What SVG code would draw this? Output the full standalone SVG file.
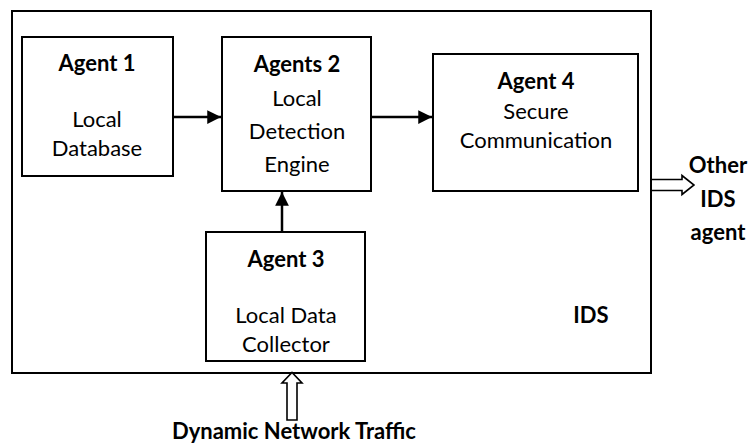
<svg xmlns="http://www.w3.org/2000/svg" width="748" height="443" viewBox="0 0 748 443">
<style>
.box{fill:#fff;stroke:#000;stroke-width:2}
.t{font-family:Lato,"Liberation Sans",sans-serif;font-size:22px;fill:#000;text-anchor:middle}
.b{font-weight:bold}
.ln{stroke:#000;stroke-width:2.5;fill:none}
.hol{fill:#fff;stroke:#000;stroke-width:1.6;stroke-linejoin:miter}
</style>
<defs>
<marker id="ah" viewBox="0 0 10 10" refX="10" refY="5" markerWidth="6" markerHeight="5.5" markerUnits="strokeWidth" orient="auto">
<path d="M0,0 L10,5 L0,10 Z" fill="#000"/>
</marker>
</defs>
<g id="ids">
<rect class="box" x="12" y="11" width="639" height="362"/>
<text class="t b" x="591" y="323">IDS</text>
</g>
<g id="agent1">
<rect class="box" x="22" y="37" width="151" height="139"/>
<text class="t b" x="97" y="71">Agent 1</text>
<text class="t" x="97" y="127">Local</text>
<text class="t" x="97" y="156">Database</text>
</g>
<g id="agent2">
<rect class="box" x="222" y="37" width="149" height="154"/>
<text class="t b" x="297" y="72">Agents 2</text>
<text class="t" x="297" y="106">Local</text>
<text class="t" x="297" y="139">Detection</text>
<text class="t" x="297" y="172">Engine</text>
</g>
<g id="agent4">
<rect class="box" x="433" y="54" width="205" height="137"/>
<text class="t b" x="536" y="89">Agent 4</text>
<text class="t" x="536" y="119">Secure</text>
<text class="t" x="536" y="148">Communication</text>
</g>
<g id="agent3">
<rect class="box" x="206" y="232" width="159" height="129"/>
<text class="t b" x="286" y="267">Agent 3</text>
<text class="t" x="286" y="323">Local Data</text>
<text class="t" x="286" y="352">Collector</text>
</g>
<g id="other">
<text class="t b" x="718" y="173">Other</text>
<text class="t b" x="718" y="207">IDS</text>
<text class="t b" x="718" y="240">agent</text>
</g>
<g id="traffic">
<text class="t b" x="294" y="439">Dynamic Network Traffic</text>
</g>
<g id="connectors">
<line class="ln" x1="173" y1="117" x2="221" y2="117" marker-end="url(#ah)"/>
<line class="ln" x1="371" y1="117" x2="432" y2="117" marker-end="url(#ah)"/>
<line class="ln" x1="282" y1="232" x2="282" y2="192" marker-end="url(#ah)"/>
<path class="hol" d="M652,179.5 L682,179.5 L682,175.5 L694,185 L682,194.5 L682,190.5 L652,190.5"/>
<path class="hol" d="M287,420 L287,383 L282,383 L292,372.5 L302,383 L297,383 L297,420 Z"/>
</g>
</svg>
